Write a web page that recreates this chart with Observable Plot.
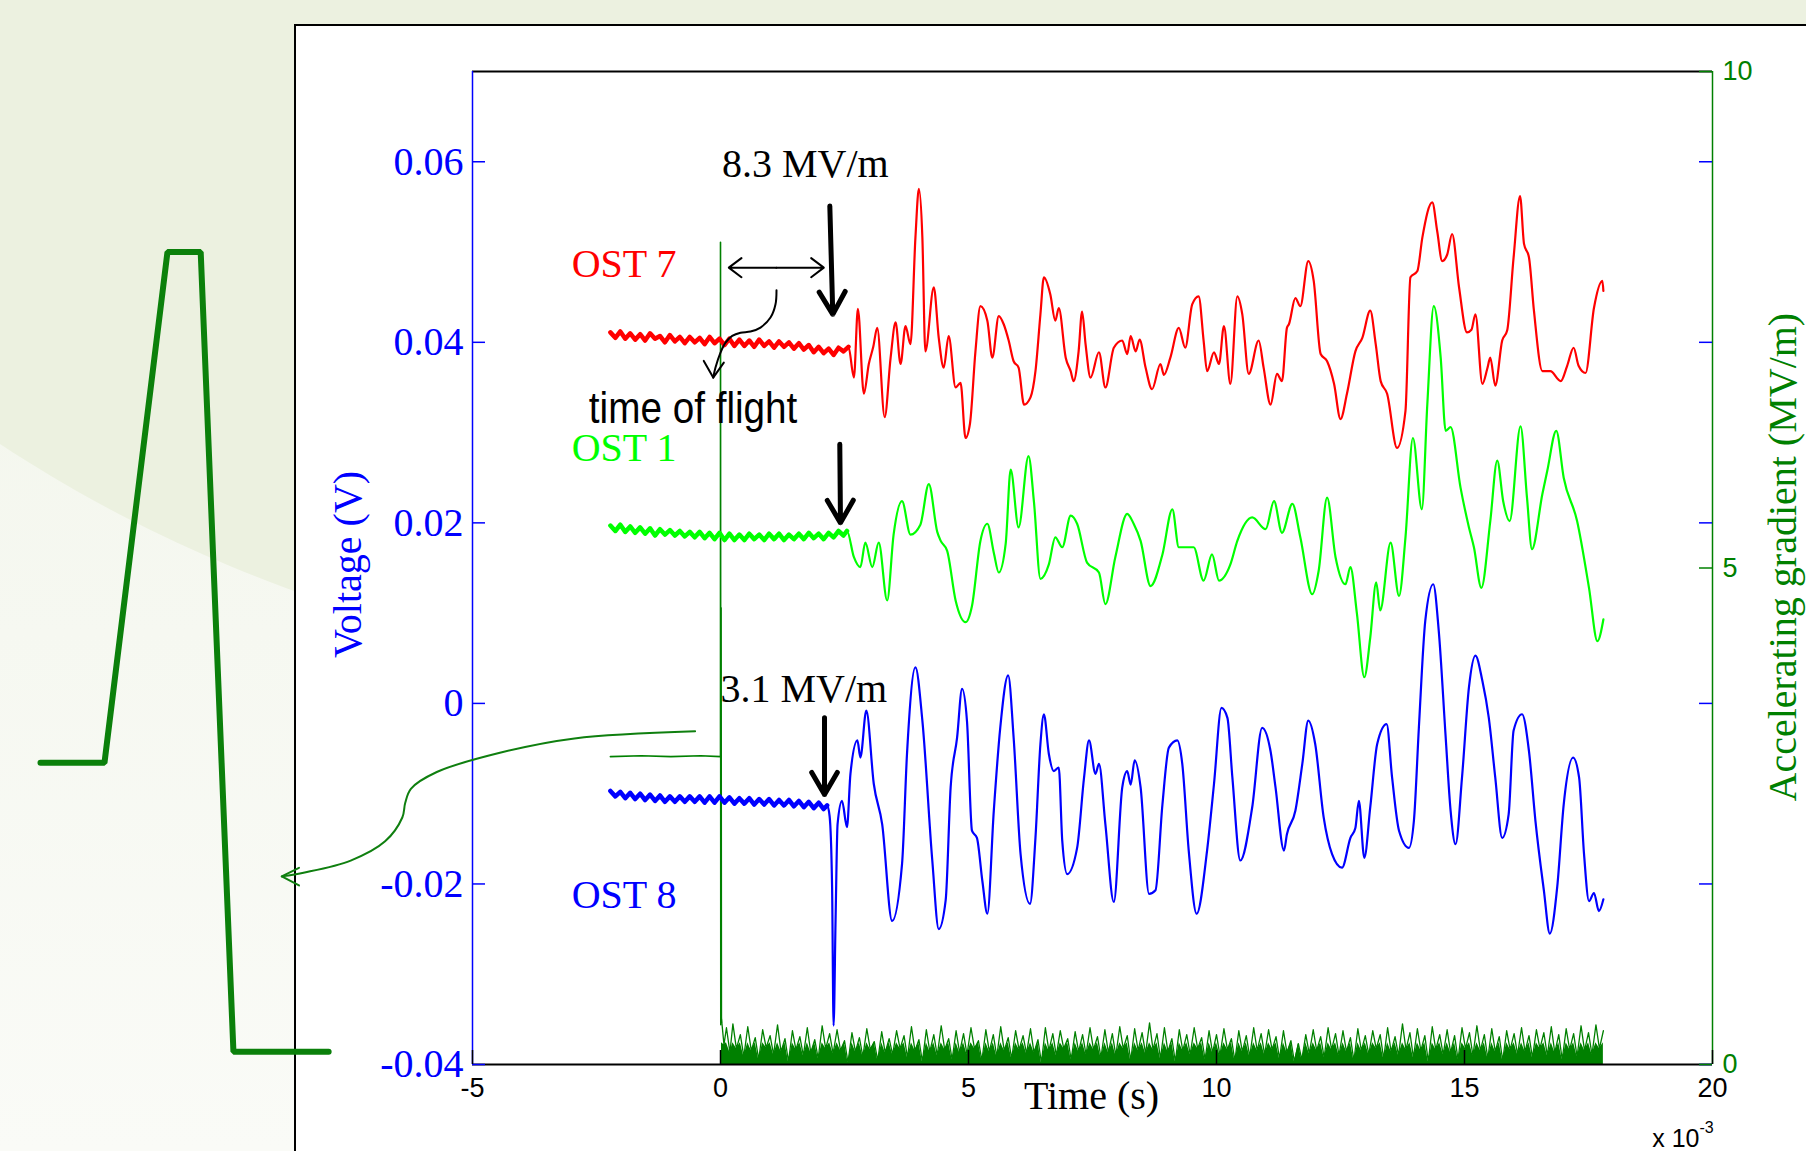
<!DOCTYPE html>
<html>
<head>
<meta charset="utf-8">
<script src="https://cdn.jsdelivr.net/npm/d3@7"></script>
<script src="https://cdn.jsdelivr.net/npm/@observablehq/plot@0.6"></script>
<style>
html,body{margin:0;padding:0;width:1806px;height:1151px;overflow:hidden;
  background:linear-gradient(to bottom,#f1f5e9 0%,#f6f8f1 55%,#fafbf7 100%);}
#stage{position:relative;width:1806px;height:1151px;overflow:hidden;}
#arc{position:absolute;left:-400px;top:-1109px;width:2600px;height:1804px;border-radius:50%;background:#ecf1e0;}
#panel{position:absolute;left:294px;top:24px;width:1540px;height:1150px;background:#fff;border-left:2px solid #000;border-top:2px solid #000;}
#chart{position:absolute;left:0;top:0;}
</style>
</head>
<body>
<div id="stage"><div id="arc"></div><div id="panel"></div><div id="chart"></div></div>
<script>
// ---------- data (time in units of 1e-3 s, voltage in V, gradient in MV/m) ----------
const timeTicks = [-5, 0, 5, 10, 15, 20];
const timeTickLabels = ["-5", "0", "5", "10", "15", "20"];
const voltTicks = [-0.04, -0.02, 0, 0.02, 0.04, 0.06];
const voltTickLabels = ["-0.04", "-0.02", "0", "0.02", "0.04", "0.06"];
const gradTicks = [0, 5, 10];
const gradTickLabels = ["0", "5", "10"];
const timeDomain = [-5, 20];
const voltDomain = [-0.04, 0.07];
const gradDomain = [0, 10];
const seriesNames = ["OST 7", "OST 1", "OST 8"];
const gradientLabels = ["8.3 MV/m", "3.1 MV/m"];
const triggerOnset = [2.6, 2.55, 2.15]; // end of the flat pre-signal baseline of OST 7, OST 1, OST 8

const ost7 = [[-2.22,0.0411],[-2.12,0.0405],[-2.02,0.0412],[-1.92,0.0404],[-1.82,0.0410],[-1.72,0.0403],[-1.62,0.0409],[-1.52,0.0402],[-1.42,0.0410],[-1.32,0.0404],[-1.22,0.0407],[-1.12,0.0400],[-1.02,0.0408],[-0.92,0.0401],[-0.82,0.0406],[-0.72,0.0399],[-0.62,0.0406],[-0.52,0.0400],[-0.42,0.0405],[-0.32,0.0398],[-0.22,0.0406],[-0.12,0.0399],[-0.02,0.0404],[0.08,0.0397],[0.18,0.0404],[0.28,0.0396],[0.38,0.0403],[0.48,0.0396],[0.58,0.0402],[0.68,0.0395],[0.78,0.0403],[0.88,0.0396],[0.98,0.0401],[1.08,0.0394],[1.18,0.0401],[1.28,0.0395],[1.38,0.0400],[1.48,0.0393],[1.58,0.0399],[1.68,0.0392],[1.78,0.0397],[1.88,0.0389],[1.98,0.0395],[2.08,0.0388],[2.18,0.0393],[2.28,0.0386],[2.38,0.0394],[2.48,0.0390],[2.58,0.0395],
[2.69,0.0361],[2.77,0.0437],[2.89,0.0343],[2.99,0.0376],[3.08,0.0395],[3.16,0.0416],[3.31,0.0317],[3.43,0.0383],[3.53,0.0422],[3.63,0.0376],[3.73,0.0418],[3.83,0.0398],[3.93,0.0516],[4.0,0.057],[4.07,0.0516],[4.13,0.039],[4.30,0.0461],[4.40,0.0405],[4.50,0.0372],[4.60,0.0407],[4.74,0.035],[4.84,0.0355],[4.94,0.0294],[5.03,0.031],[5.14,0.039],[5.24,0.044],[5.38,0.0424],[5.48,0.0383],[5.61,0.0429],[5.71,0.042],[5.81,0.0402],[5.91,0.0379],[6.01,0.0372],[6.12,0.0331],[6.25,0.0339],[6.35,0.0368],[6.45,0.0431],[6.52,0.0472],[6.65,0.0453],[6.75,0.0424],[6.82,0.0438],[6.96,0.0383],[7.06,0.0368],[7.12,0.0357],[7.22,0.039],[7.29,0.0434],[7.36,0.0398],[7.46,0.0361],[7.63,0.0389],[7.76,0.035],[7.93,0.0394],[8.10,0.0402],[8.20,0.0387],[8.27,0.0407],[8.37,0.039],[8.45,0.0403],[8.57,0.0372],[8.70,0.0348],[8.87,0.0376],[8.94,0.0364],[9.07,0.0383],[9.24,0.0416],[9.37,0.0394],[9.51,0.0442],[9.64,0.0451],[9.74,0.0402],[9.81,0.0368],[9.95,0.0389],[10.05,0.0376],[10.15,0.0418],[10.28,0.0354],[10.42,0.0451],[10.52,0.0431],[10.65,0.0365],[10.85,0.0402],[10.95,0.0372],[11.09,0.0331],[11.22,0.0365],[11.32,0.0357],[11.42,0.0416],[11.46,0.042],[11.59,0.0449],[11.69,0.0440],[11.85,0.049],[11.96,0.0468],[12.10,0.0387],[12.23,0.0379],[12.37,0.0354],[12.50,0.0315],[12.63,0.0343],[12.80,0.039],[12.94,0.0405],[13.10,0.0435],[13.21,0.0398],[13.31,0.0357],[13.44,0.0343],[13.64,0.0283],[13.81,0.0324],[13.91,0.0472],[14.05,0.0479],[14.15,0.0516],[14.35,0.0555],[14.45,0.0523],[14.55,0.049],[14.65,0.0497],[14.75,0.052],[14.89,0.0461],[15.05,0.0411],[15.14,0.0414],[15.22,0.0431],[15.36,0.0354],[15.46,0.0371],[15.52,0.0383],[15.62,0.0352],[15.76,0.0402],[15.86,0.0413],[15.99,0.0494],[16.12,0.0562],[16.20,0.0509],[16.30,0.0494],[16.40,0.0435],[16.57,0.0368],[16.73,0.0368],[16.94,0.0357],[17.07,0.0374],[17.20,0.0394],[17.30,0.0374],[17.44,0.0366],[17.61,0.0438],[17.78,0.0468],[17.80,0.0457]];

const ost1 = [[-2.22,0.0197],[-2.12,0.0191],[-2.02,0.0198],[-1.92,0.0190],[-1.82,0.0196],[-1.72,0.0189],[-1.62,0.0195],[-1.52,0.0188],[-1.42,0.0194],[-1.32,0.0186],[-1.22,0.0193],[-1.12,0.0187],[-1.02,0.0192],[-0.92,0.0186],[-0.82,0.0191],[-0.72,0.0185],[-0.62,0.0190],[-0.52,0.0184],[-0.42,0.0190],[-0.32,0.0183],[-0.22,0.0189],[-0.12,0.0182],[-0.02,0.0189],[0.08,0.0181],[0.18,0.0188],[0.28,0.0181],[0.38,0.0187],[0.48,0.0181],[0.58,0.0188],[0.68,0.0182],[0.78,0.0187],[0.88,0.0181],[0.98,0.0188],[1.08,0.0182],[1.18,0.0188],[1.28,0.0181],[1.38,0.0187],[1.48,0.0182],[1.58,0.0188],[1.68,0.0182],[1.78,0.0189],[1.88,0.0183],[1.98,0.0188],[2.08,0.0182],[2.18,0.0189],[2.28,0.0184],[2.38,0.0191],[2.48,0.0186],[2.55,0.0191],
[2.69,0.0162],[2.82,0.0151],[2.92,0.0178],[3.06,0.0151],[3.19,0.0178],[3.36,0.0114],[3.49,0.0187],[3.66,0.0224],[3.83,0.0187],[4.03,0.0198],[4.20,0.0243],[4.37,0.019],[4.44,0.018],[4.57,0.0169],[4.74,0.0114],[4.94,0.009],[5.07,0.0108],[5.24,0.018],[5.38,0.0199],[5.51,0.0167],[5.61,0.0145],[5.75,0.0177],[5.85,0.0259],[6.01,0.0195],[6.21,0.0274],[6.32,0.0223],[6.45,0.0138],[6.62,0.0154],[6.75,0.0184],[6.89,0.0173],[7.06,0.0208],[7.19,0.0199],[7.39,0.0156],[7.63,0.0145],[7.76,0.011],[7.96,0.0162],[8.20,0.021],[8.33,0.0199],[8.47,0.0180],[8.67,0.013],[8.91,0.0165],[9.11,0.0215],[9.24,0.0173],[9.54,0.0173],[9.74,0.0136],[9.91,0.0165],[10.05,0.0136],[10.28,0.0154],[10.42,0.018],[10.72,0.0206],[10.99,0.0193],[11.16,0.0224],[11.32,0.0189],[11.53,0.0221],[11.69,0.0184],[11.93,0.0121],[12.06,0.0147],[12.23,0.0228],[12.40,0.0162],[12.60,0.0132],[12.70,0.0151],[12.83,0.01],[12.98,0.0029],[13.10,0.0073],[13.22,0.0134],[13.30,0.0103],[13.51,0.0178],[13.68,0.0119],[13.81,0.0184],[13.96,0.0294],[14.14,0.0215],[14.25,0.0331],[14.38,0.044],[14.52,0.0383],[14.62,0.0302],[14.72,0.0306],[14.92,0.0239],[15.09,0.0195],[15.19,0.0173],[15.34,0.0128],[15.52,0.0202],[15.66,0.0269],[15.78,0.0224],[15.91,0.0202],[16.13,0.0307],[16.26,0.0228],[16.36,0.0171],[16.57,0.0232],[16.67,0.0258],[16.85,0.0302],[17.0,0.0250],[17.27,0.0202],[17.51,0.0128],[17.68,0.0069],[17.80,0.0093]];

const ost8 = [[-2.22,-0.0097],[-2.12,-0.0103],[-2.02,-0.0098],[-1.92,-0.0105],[-1.82,-0.0099],[-1.72,-0.0106],[-1.62,-0.0100],[-1.52,-0.0107],[-1.42,-0.0101],[-1.32,-0.0108],[-1.22,-0.0102],[-1.12,-0.0109],[-1.02,-0.0103],[-0.92,-0.0109],[-0.82,-0.0103],[-0.72,-0.0109],[-0.62,-0.0103],[-0.52,-0.0109],[-0.42,-0.0103],[-0.32,-0.0110],[-0.22,-0.0103],[-0.12,-0.0110],[-0.02,-0.0103],[0.08,-0.0110],[0.18,-0.0104],[0.28,-0.0111],[0.38,-0.0105],[0.48,-0.0111],[0.58,-0.0105],[0.68,-0.0112],[0.78,-0.0106],[0.88,-0.0112],[0.98,-0.0106],[1.08,-0.0113],[1.18,-0.0107],[1.28,-0.0113],[1.38,-0.0107],[1.48,-0.0114],[1.58,-0.0108],[1.68,-0.0115],[1.78,-0.0109],[1.88,-0.0116],[1.98,-0.0110],[2.08,-0.0117],[2.15,-0.0113],
[2.20,-0.0125],[2.25,-0.0204],[2.28,-0.0357],[2.32,-0.0240],[2.36,-0.0134],[2.45,-0.0108],[2.55,-0.0137],[2.62,-0.0078],[2.76,-0.0041],[2.82,-0.0060],[2.94,-0.0008],[3.09,-0.0089],[3.26,-0.0134],[3.46,-0.0241],[3.66,-0.0178],[3.76,-0.0056],[3.93,0.0040],[4.07,-0.0019],[4.27,-0.0174],[4.40,-0.0250],[4.54,-0.0218],[4.64,-0.0093],[4.77,-0.0038],[4.87,0.0016],[4.97,-0.0020],[5.07,-0.0141],[5.17,-0.0149],[5.28,-0.0197],[5.38,-0.0233],[5.51,-0.0119],[5.64,-0.0027],[5.80,0.0031],[5.91,-0.0038],[6.05,-0.0167],[6.24,-0.0222],[6.35,-0.0149],[6.45,-0.0045],[6.52,-0.0012],[6.62,-0.0056],[6.72,-0.0075],[6.82,-0.0071],[6.89,-0.0152],[6.99,-0.0189],[7.19,-0.0160],[7.33,-0.0082],[7.43,-0.0041],[7.56,-0.0078],[7.63,-0.0067],[7.76,-0.0134],[7.93,-0.0220],[8.10,-0.0093],[8.20,-0.0075],[8.27,-0.0090],[8.35,-0.0063],[8.47,-0.0093],[8.64,-0.0211],[8.77,-0.0207],[8.91,-0.0112],[9.04,-0.0049],[9.21,-0.0041],[9.31,-0.0067],[9.44,-0.0163],[9.60,-0.0233],[9.81,-0.0163],[9.95,-0.0089],[10.10,-0.0005],[10.22,-0.0016],[10.32,-0.0082],[10.48,-0.0174],[10.72,-0.0115],[10.92,-0.0027],[11.09,-0.0053],[11.19,-0.0093],[11.36,-0.0163],[11.42,-0.0145],[11.59,-0.0119],[11.73,-0.0067],[11.85,-0.0019],[11.99,-0.0045],[12.16,-0.0126],[12.33,-0.0167],[12.53,-0.0182],[12.70,-0.0149],[12.80,-0.0138],[12.87,-0.0108],[12.98,-0.0171],[13.10,-0.0115],[13.24,-0.0045],[13.43,-0.0023],[13.54,-0.0082],[13.68,-0.0141],[13.88,-0.0160],[13.98,-0.0130],[14.08,-0.0027],[14.21,0.0092],[14.37,0.0132],[14.48,0.0081],[14.62,-0.0037],[14.72,-0.0119],[14.82,-0.0156],[14.95,-0.0082],[15.09,0.0018],[15.22,0.0053],[15.36,0.0025],[15.49,-0.0016],[15.62,-0.0082],[15.76,-0.0149],[15.89,-0.0123],[15.99,-0.0030],[16.16,-0.0012],[16.30,-0.0053],[16.43,-0.0130],[16.60,-0.0207],[16.72,-0.0255],[16.87,-0.0203],[17.0,-0.0112],[17.19,-0.0060],[17.31,-0.0082],[17.41,-0.0167],[17.51,-0.0219],[17.61,-0.0210],[17.71,-0.0230],[17.80,-0.0217]];

// accelerating gradient (MV/m): flat-top before the trigger, spike at t = 0, then noise floor
const gradStart = [[-2.22,3.10],[-1.6,3.11],[-1.0,3.10],[-0.4,3.11],[0,3.10],[0,8.28],[0.006,0.40],[0.012,4.60],[0.018,0.42]];
const gradNoise = [[0.02,0.46],[0.07,0.20],[0.12,0.37],[0.19,0.12],[0.25,0.41],[0.32,0.16],[0.4,0.30],[0.47,0.08],[0.55,0.38],[0.62,0.14],[0.7,0.27],[0.77,0.05],[0.85,0.35],[0.92,0.17],[1.0,0.29],[1.07,0.10],[1.15,0.40],[1.22,0.13],[1.3,0.26],[1.37,0.03],[1.45,0.34],[1.52,0.15],[1.6,0.28],[1.67,0.09],[1.75,0.37],[1.82,0.12],[1.9,0.25],[1.97,0.06],[2.05,0.39],[2.12,0.16],[2.2,0.31],[2.27,0.11],[2.35,0.35],[2.42,0.14],[2.5,0.24],[2.57,0.02],[2.65,0.32],[2.72,0.13],[2.8,0.27],[2.87,0.08],[2.95,0.36],[3.02,0.15],[3.1,0.23],[3.17,0.04],[3.25,0.33],[3.32,0.12],[3.4,0.26],[3.47,0.10],[3.55,0.34],[3.62,0.16],[3.7,0.29],[3.77,0.07],[3.85,0.38],[3.92,0.14],[4.0,0.25],[4.07,0.03],[4.15,0.35],[4.22,0.13],[4.3,0.30],[4.37,0.09],[4.45,0.39],[4.52,0.15],[4.6,0.26],[4.67,0.05],[4.75,0.34],[4.82,0.12],[4.9,0.31],[4.97,0.10],[5.05,0.37],[5.12,0.16],[5.2,0.24],[5.27,0.04],[5.35,0.35],[5.42,0.13],[5.5,0.30],[5.57,0.08],[5.65,0.38],[5.72,0.14],[5.8,0.27],[5.87,0.06],[5.95,0.34],[6.02,0.15],[6.1,0.29],[6.17,0.11],[6.25,0.36],[6.32,0.12],[6.4,0.25],[6.47,0.02],[6.55,0.37],[6.62,0.14],[6.7,0.31],[6.77,0.09],[6.85,0.34],[6.92,0.16],[7.0,0.26],[7.07,0.05],[7.15,0.33],[7.22,0.13],[7.3,0.30],[7.37,0.10],[7.45,0.37],[7.52,0.15],[7.6,0.28],[7.67,0.07],[7.75,0.35],[7.82,0.12],[7.9,0.31],[7.97,0.09],[8.05,0.38],[8.12,0.16],[8.2,0.29],[8.27,0.04],[8.35,0.36],[8.42,0.14],[8.5,0.32],[8.57,0.11],[8.65,0.42],[8.72,0.15],[8.8,0.31],[8.87,0.06],[8.95,0.37],[9.02,0.13],[9.1,0.26],[9.17,0.03],[9.25,0.35],[9.32,0.14],[9.4,0.30],[9.47,0.10],[9.55,0.37],[9.62,0.16],[9.7,0.27],[9.77,0.05],[9.85,0.34],[9.92,0.12],[10.0,0.30],[10.07,0.09],[10.15,0.36],[10.22,0.15],[10.3,0.26],[10.37,0.04],[10.45,0.34],[10.52,0.13],[10.6,0.29],[10.67,0.08],[10.75,0.37],[10.82,0.14],[10.9,0.31],[10.97,0.10],[11.05,0.35],[11.12,0.15],[11.2,0.28],[11.27,0.06],[11.35,0.34],[11.42,0.12],[11.5,0.24],[11.57,0.03],[11.65,0.21],[11.72,0.05],[11.8,0.30],[11.87,0.11],[11.95,0.35],[12.02,0.14],[12.1,0.28],[12.17,0.07],[12.25,0.37],[12.32,0.15],[12.4,0.31],[12.47,0.09],[12.55,0.34],[12.62,0.13],[12.7,0.27],[12.77,0.04],[12.85,0.36],[12.92,0.14],[13.0,0.29],[13.07,0.10],[13.15,0.34],[13.22,0.16],[13.3,0.30],[13.37,0.06],[13.45,0.37],[13.52,0.13],[13.6,0.28],[13.67,0.09],[13.75,0.41],[13.82,0.15],[13.9,0.32],[13.97,0.07],[14.05,0.36],[14.12,0.14],[14.2,0.29],[14.27,0.03],[14.35,0.38],[14.42,0.15],[14.5,0.30],[14.57,0.10],[14.65,0.35],[14.72,0.12],[14.8,0.29],[14.87,0.05],[14.95,0.37],[15.02,0.16],[15.1,0.32],[15.17,0.09],[15.25,0.39],[15.32,0.14],[15.4,0.30],[15.47,0.06],[15.55,0.36],[15.62,0.13],[15.7,0.28],[15.77,0.04],[15.85,0.34],[15.92,0.15],[16.0,0.31],[16.07,0.10],[16.15,0.37],[16.22,0.13],[16.3,0.29],[16.37,0.07],[16.45,0.35],[16.52,0.16],[16.6,0.32],[16.67,0.09],[16.75,0.38],[16.82,0.12],[16.9,0.30],[16.97,0.05],[17.05,0.36],[17.12,0.15],[17.2,0.31],[17.27,0.08],[17.35,0.39],[17.42,0.14],[17.5,0.32],[17.57,0.10],[17.65,0.40],[17.72,0.16],[17.8,0.34]];

// sketch of the gradient pulse shape drawn beside the chart (time, voltage-axis units)
const pulseShape = [[-13.71,-0.00658],[-12.42,-0.00658],[-11.15,0.0500],[-10.48,0.0500],[-9.82,-0.03858],[-7.90,-0.03858]];

// ---------- annotation geometry (data units) ----------
const tofCurve = [[1.129,0.04577],[1.109,0.04422],[1.008,0.04274],[0.806,0.04163],[0.605,0.04119],[0.403,0.04107],[0.236,0.04071],[0.101,0.03997],[0.0,0.03886],[-0.101,0.0372],[-0.147,0.03609]];
const tofHead = [[-0.337,0.03794],[-0.147,0.03609],[0.067,0.03775]];
const pulseCurve = [[-0.512,-0.00309],[-2.944,-0.00388],[-4.448,-0.00547],[-5.720,-0.0076],[-6.242,-0.00946],[-6.357,-0.01104],[-6.415,-0.01264],[-6.762,-0.01528],[-7.456,-0.01741],[-8.383,-0.01873],[-8.845,-0.01916]];
const pulseHead = [[-8.498,-0.01821],[-8.845,-0.01916],[-8.498,-0.02017]];
const onsetArrows = [
  {x1:2.204,y1:0.0551,x2:2.264,y2:0.0431},
  {x1:2.405,y1:0.0287,x2:2.419,y2:0.0200},
  {x1:2.097,y1:-0.0016,x2:2.097,y2:-0.0101}
];
const flightSpan = [
  {x1:1.125,y1:0.04827,x2:0.167,y2:0.04827},
  {x1:1.125,y1:0.04827,x2:2.083,y2:0.04827}
];

// ---------- styling ----------
const SERIF = "'Liberation Serif','Times New Roman',Times,serif";
const SANS = "'Liberation Sans',Arial,Helvetica,sans-serif";
const RED = "#ff0000", LIME = "#00ff00", BLUE = "#0000ff", DKGREEN = "#008000";
const TOF = "time of flight";

const gToV = d3.scaleLinear(gradDomain, voltDomain);  // right axis -> left axis units
const W = 1806, H = 1151, ML = 472, MR = 94, MT = 71, MB = 87;
const FW = W - ML - MR, FH = H - MT - MB;

const X = d => d[0], Yv = d => d[1], Yg = d => gToV(d[1]);
const baseline = (s, k) => s.filter(d => d[0] <= triggerOnset[k]);
const CURVE = "monotone-x";

const chart = Plot.plot({
  width: W, height: H,
  marginLeft: ML, marginRight: MR, marginTop: MT, marginBottom: MB,
  x: {domain: timeDomain, axis: null},
  y: {domain: voltDomain, axis: null},
  style: {background: "transparent", overflow: "visible"},
  marks: [
    // gradient trace (right axis)
    Plot.areaY(gradNoise, {x: X, y1: () => voltDomain[0], y2: d => gToV(Math.min(d[1], 0.22)), fill: DKGREEN}),
    Plot.line(gradNoise, {x: X, y: Yg, stroke: DKGREEN, strokeWidth: 1.3}),
    Plot.line(gradStart, {x: X, y: Yg, stroke: DKGREEN, strokeWidth: 1.6}),
    // OST signals
    Plot.line(ost8, {x: X, y: Yv, stroke: BLUE, strokeWidth: 2.2, curve: CURVE}),
    Plot.line(baseline(ost8, 2), {x: X, y: Yv, stroke: BLUE, strokeWidth: 4.5}),
    Plot.line(ost1, {x: X, y: Yv, stroke: LIME, strokeWidth: 2.2, curve: CURVE}),
    Plot.line(baseline(ost1, 1), {x: X, y: Yv, stroke: LIME, strokeWidth: 4.5}),
    Plot.line(ost7, {x: X, y: Yv, stroke: RED, strokeWidth: 2.2, curve: CURVE}),
    Plot.line(baseline(ost7, 0), {x: X, y: Yv, stroke: RED, strokeWidth: 4.5}),
    // frame
    Plot.ruleY([voltDomain[1]], {y: d => d, stroke: "#000", strokeWidth: 2}),
    Plot.ruleY([voltDomain[0]], {y: d => d, stroke: "#000", strokeWidth: 2}),
    Plot.ruleX([timeDomain[0]], {x: d => d, stroke: BLUE, strokeWidth: 1.5}),
    Plot.ruleX([timeDomain[1]], {x: d => d, stroke: DKGREEN, strokeWidth: 1.5}),
    // inward ticks
    Plot.tickY(voltTicks, {y: d => d, stroke: BLUE, strokeWidth: 1.5, insetRight: FW - 13}),
    Plot.tickY(voltTicks, {y: d => d, stroke: BLUE, strokeWidth: 1.5, insetLeft: FW - 13}),
    Plot.tickY(gradTicks, {y: d => gToV(d), stroke: DKGREEN, strokeWidth: 1.5, insetLeft: FW - 13}),
    Plot.tickX(timeTicks, {x: d => d, stroke: "#000", strokeWidth: 1.5, insetTop: FH - 14}),
    // tick labels
    Plot.text(voltTicks, {x: () => timeDomain[0], y: d => d, text: (d, i) => voltTickLabels[i], textAnchor: "end", dx: -9, fill: BLUE, fontSize: 40, fontFamily: SERIF}),
    Plot.text(timeTicks, {x: d => d, y: () => voltDomain[0], text: (d, i) => timeTickLabels[i], dy: 24, fill: "#000", fontSize: 27, fontFamily: SANS}),
    Plot.text(gradTicks, {x: () => timeDomain[1], y: d => gToV(d), text: (d, i) => gradTickLabels[i], textAnchor: "start", dx: 10, fill: DKGREEN, fontSize: 27, fontFamily: SANS}),
    Plot.text(["x 10"], {x: () => timeDomain[1], y: () => voltDomain[0], text: d => d, textAnchor: "end", dx: -13, dy: 74, fill: "#000", fontSize: 25, fontFamily: SANS}),
    Plot.text(["-3"], {x: () => timeDomain[1], y: () => voltDomain[0], text: d => d, textAnchor: "start", dx: -13, dy: 63, fill: "#000", fontSize: 16, fontFamily: SANS}),
    // axis titles
    Plot.text(["Voltage (V)"], {x: () => -7.5, y: () => 0.0154, text: d => d, rotate: -90, fill: BLUE, fontSize: 40, fontFamily: SERIF}),
    Plot.text(["Accelerating gradient (MV/m)"], {x: () => 21.43, y: () => 0.0162, text: d => d, rotate: -90, fill: DKGREEN, fontSize: 40, fontFamily: SERIF}),
    Plot.text(["Time (s)"], {x: () => 7.48, y: () => voltDomain[0], text: d => d, dy: 32, fill: "#000", fontSize: 40, fontFamily: SERIF}),
    // series labels
    Plot.text([seriesNames[0]], {x: () => -3.0, y: () => 0.0487, text: d => d, textAnchor: "start", fill: RED, fontSize: 40, fontFamily: SERIF}),
    Plot.text([seriesNames[1]], {x: () => -3.0, y: () => 0.0283, text: d => d, textAnchor: "start", fill: LIME, fontSize: 40, fontFamily: SERIF}),
    Plot.text([seriesNames[2]], {x: () => -3.0, y: () => -0.0212, text: d => d, textAnchor: "start", fill: BLUE, fontSize: 40, fontFamily: SERIF}),
    // annotations
    Plot.text([gradientLabels[0]], {x: () => 0.03, y: () => 0.0597, text: d => d, textAnchor: "start", fill: "#000", fontSize: 40, fontFamily: SERIF}),
    Plot.text([gradientLabels[1]], {x: () => 0.0, y: () => 0.0016, text: d => d, textAnchor: "start", fill: "#000", fontSize: 40, fontFamily: SERIF}),
    Plot.text([TOF], {x: () => -2.655, y: () => 0.0327, text: d => d, textAnchor: "start", fill: "#000", fontSize: 45, fontFamily: SANS}),
    Plot.arrow(onsetArrows, {x1: "x1", y1: "y1", x2: "x2", y2: "y2", stroke: "#000", strokeWidth: 5, headLength: 7.8, headAngle: 60}),
    Plot.arrow(flightSpan, {x1: "x1", y1: "y1", x2: "x2", y2: "y2", stroke: "#000", strokeWidth: 2, headLength: 12, headAngle: 74}),
    Plot.line(tofCurve, {x: X, y: Yv, curve: "catmull-rom", stroke: "#000", strokeWidth: 2}),
    Plot.line(tofHead, {x: X, y: Yv, stroke: "#000", strokeWidth: 2}),
    Plot.line(pulseCurve, {x: X, y: Yv, curve: "catmull-rom", stroke: "#0f7f0f", strokeWidth: 2}),
    Plot.line(pulseHead, {x: X, y: Yv, stroke: "#0f7f0f", strokeWidth: 2}),
    Plot.line(pulseShape, {x: X, y: Yv, stroke: "#0b800b", strokeWidth: 6, strokeLinejoin: "miter"})
  ]
});
document.getElementById("chart").appendChild(chart);

// condensed look of the hand-lettered "time of flight" label: squeeze it horizontally about its start
d3.select(chart).selectAll("text").filter(function() { return this.textContent === TOF; }).each(function() {
  const tr = this.getAttribute("transform");
  if (tr) {
    this.setAttribute("transform", tr + " scale(0.86,1)");
  } else {
    const x = this.getAttribute("x") || 0, y = this.getAttribute("y") || 0;
    this.removeAttribute("x"); this.removeAttribute("y");
    this.setAttribute("transform", `translate(${x},${y}) scale(0.86,1)`);
  }
});
</script>
</body>
</html>
